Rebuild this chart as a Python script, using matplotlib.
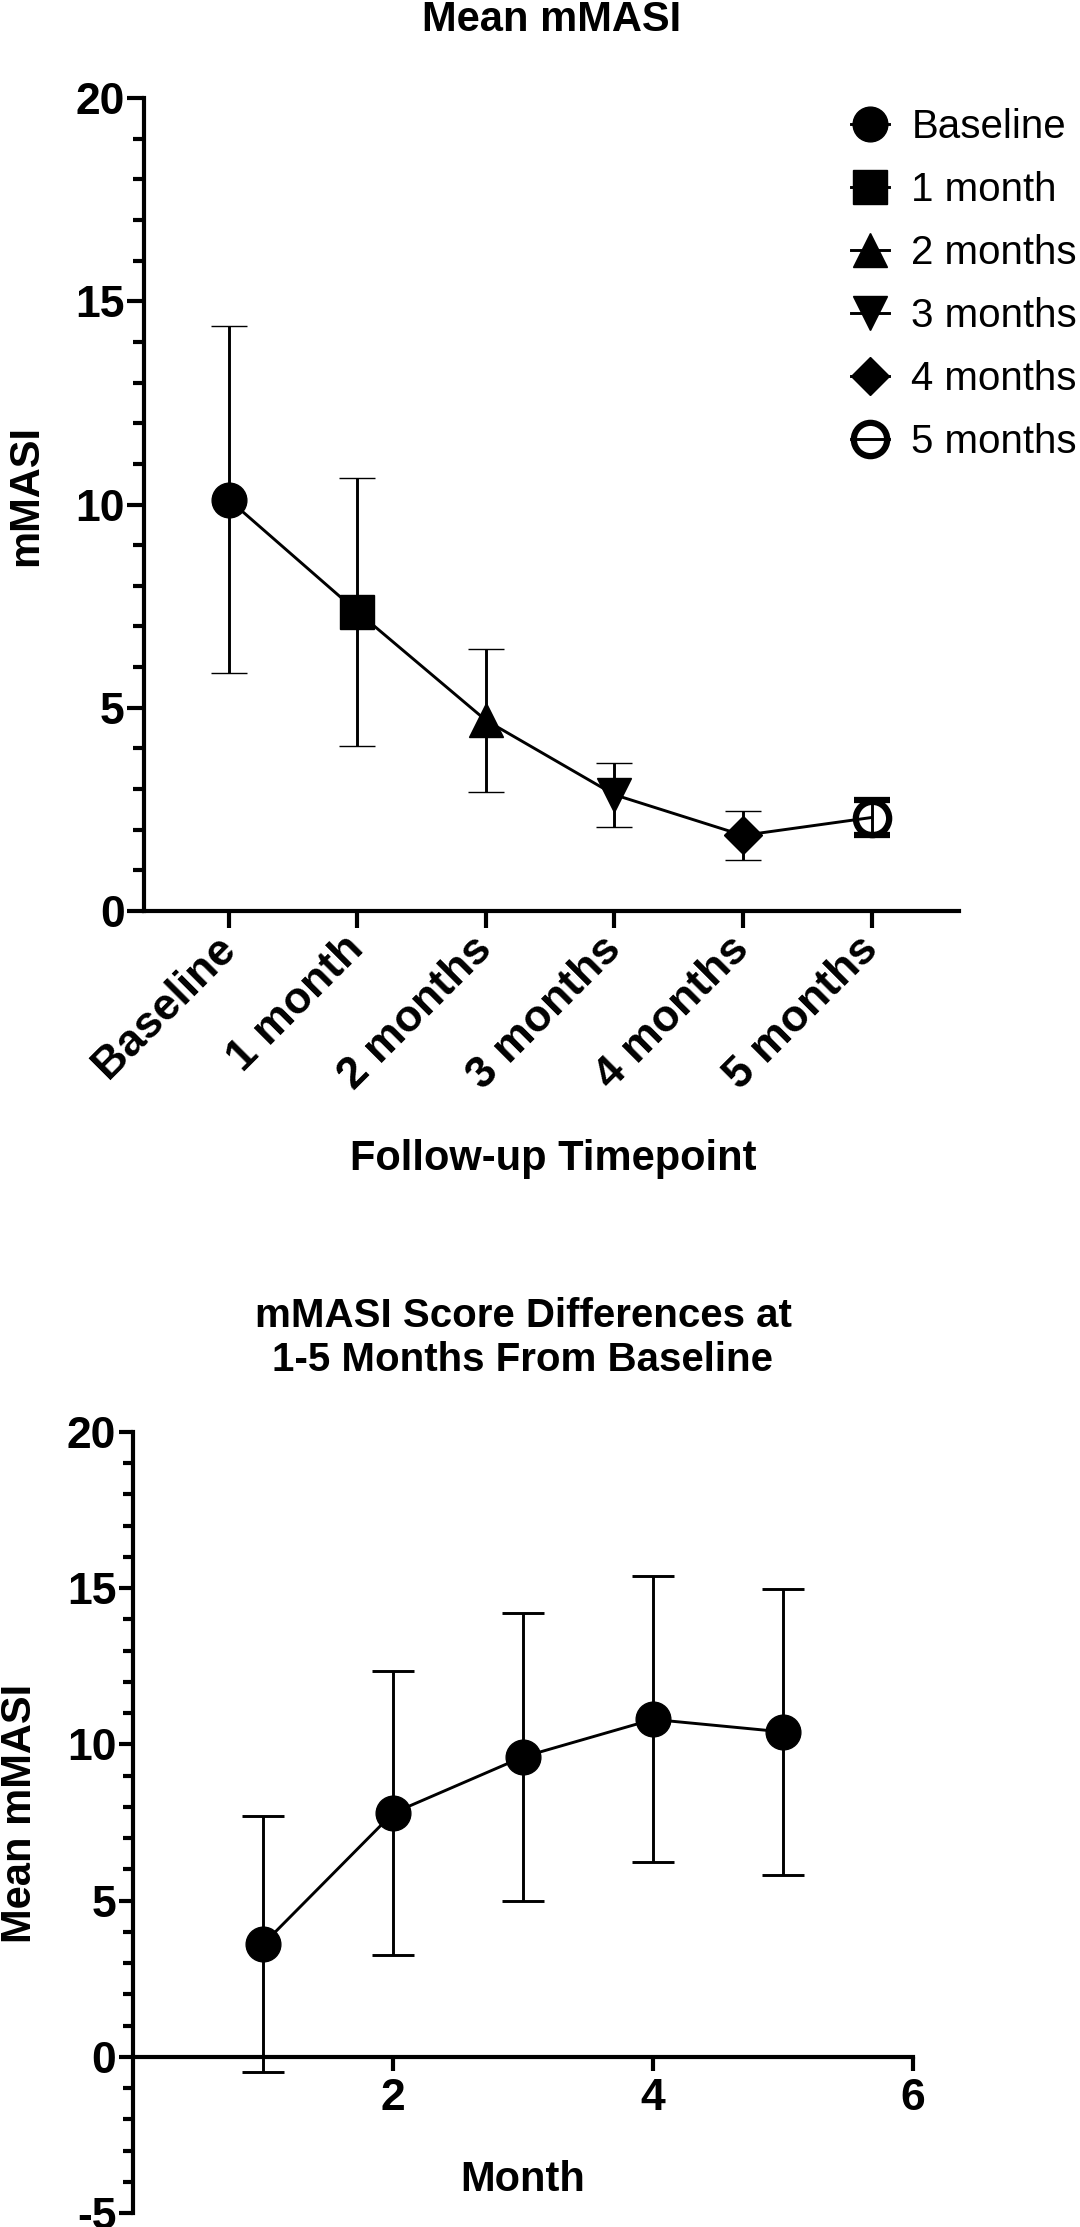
import numpy as np
import matplotlib
matplotlib.use('Agg')
import matplotlib.pyplot as plt
from matplotlib.lines import Line2D
from matplotlib.ticker import MultipleLocator

plt.rcParams['font.family'] = ['Liberation Sans', 'DejaVu Sans']
plt.rcParams['font.weight'] = 'bold'
plt.rcParams['axes.unicode_minus'] = False

# top chart: mean mMASI at each follow-up visit
timepoints = ['Baseline', '1 month', '2 months', '3 months', '4 months', '5 months']
mean_masi = [10.12, 7.36, 4.69, 2.86, 1.86, 2.30]
sd_masi = [4.27, 3.30, 1.76, 0.79, 0.60, 0.42]

# bottom chart: score differences from baseline
months = [1, 2, 3, 4, 5]
diff_mean = [3.6, 7.8, 9.6, 10.8, 10.4]
diff_sd = [4.10, 4.54, 4.60, 4.58, 4.57]

W, H = 1080, 2227
fig = plt.figure(figsize=(W / 100, H / 100), dpi=100)


def px_axes(left, top, right, bottom):
    return fig.add_axes([left / W, 1 - bottom / H, (right - left) / W, (bottom - top) / H])


def style_axes(ax, major_len, minor_len):
    for side in ['top', 'right']:
        ax.spines[side].set_visible(False)
    for side in ['left', 'bottom']:
        ax.spines[side].set_linewidth(3)
    ax.tick_params(which='major', length=major_len, width=3, labelsize=32, pad=2)
    ax.tick_params(which='minor', length=minor_len, width=3)
    ax.yaxis.set_minor_locator(MultipleLocator(1))


# ---- top chart ----
ax1 = px_axes(144, 98, 959, 911)
x = np.arange(len(timepoints))
ax1.plot(x, mean_masi, color='black', lw=2.1, zorder=2)

markers = ['o', 's', '^', 'v', 'D', 'o']
sizes = [25, 24, 25, 25, 19, 24]
faces = ['black', 'black', 'black', 'black', 'black', 'none']
handles = []
for i, lab in enumerate(timepoints):
    mew = 4.5 if faces[i] == 'none' else 1
    ax1.errorbar(x[i], mean_masi[i], yerr=sd_masi[i], fmt=markers[i], ms=sizes[i],
                 mfc=faces[i], mec='black', mew=mew,
                 ecolor='black', elinewidth=2.1, capsize=13, capthick=2.1, zorder=3)
    handles.append(Line2D([], [], color='black', lw=2.1, marker=markers[i], ms=sizes[i],
                          mfc=faces[i], mec='black', mew=mew))

ax1.set_xlim(-0.66, 5.68)
ax1.set_ylim(0, 20)
ax1.set_yticks([0, 5, 10, 15, 20])
style_axes(ax1, 12, 8)
ax1.set_xticks(x)
ax1.set_xticklabels(timepoints, rotation=45, ha='right', va='center', rotation_mode='anchor')
ax1.tick_params(axis='x', pad=11)

ax1.set_title('Mean mMASI', fontsize=30, fontweight='bold', y=(911 - 31) / 813, pad=0, va='baseline')
ax1.set_xlabel('Follow-up Timepoint', fontsize=30, fontweight='bold', va='baseline')
ax1.xaxis.set_label_coords((553 - 144) / 815, (911 - 1170) / 813)
ax1.set_ylabel('mMASI', fontsize=30, fontweight='bold', va='center')
ax1.yaxis.set_label_coords((26 - 144) / 815, (911 - 495) / 813)

ax1.legend(handles, timepoints, loc='upper left', bbox_to_anchor=(851 / W, 1 - 108 / H),
           bbox_transform=fig.transFigure, frameon=False, prop={'size': 29, 'weight': 'normal'},
           handlelength=0.95, handletextpad=0.55, labelspacing=0.62, borderpad=0,
           borderaxespad=0, numpoints=1)

# ---- bottom chart ----
ax2 = px_axes(133, 1432, 913, 2213)
ax2.errorbar(months, diff_mean, yerr=diff_sd, fmt='-o', color='black', ms=25, lw=2.1,
             elinewidth=2.1, capsize=15, capthick=2.1)
ax2.set_xlim(0, 6)
ax2.set_ylim(-5, 20)
ax2.spines['bottom'].set_position(('data', 0))
ax2.set_xticks([2, 4, 6])
ax2.set_yticks([-5, 0, 5, 10, 15, 20])
style_axes(ax2, 10, 7)
ax2.tick_params(axis='x', pad=5)

ax2.set_title('mMASI Score Differences at\n1-5 Months From Baseline', fontsize=29,
              fontweight='bold', y=(2213 - 1371) / 781, pad=0, va='baseline')
fig.text(523 / W, 1 - 2191 / H, 'Month', ha='center', va='baseline', fontsize=30, fontweight='bold')
ax2.set_ylabel('Mean mMASI', fontsize=30, fontweight='bold', va='center')
ax2.yaxis.set_label_coords((20 - 133) / 780, (2213 - 1813) / 781)

fig.savefig('out.png', dpi=100)
